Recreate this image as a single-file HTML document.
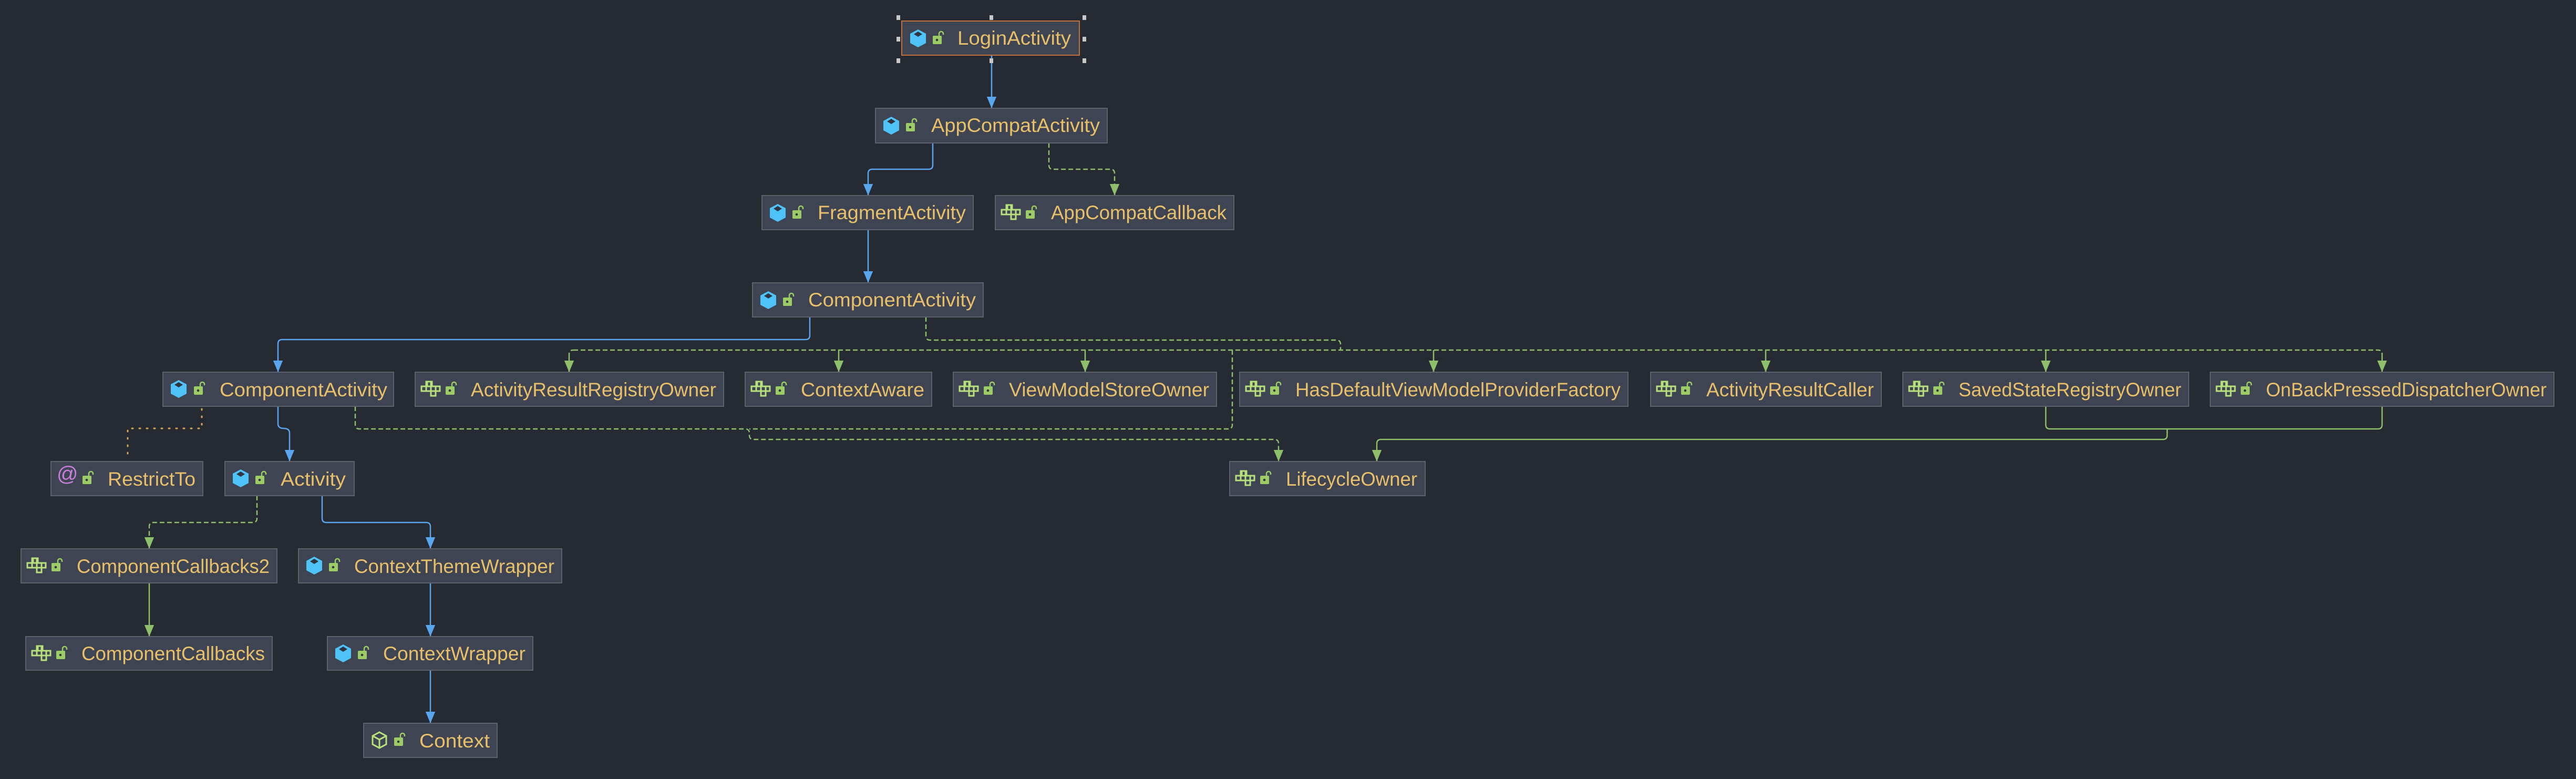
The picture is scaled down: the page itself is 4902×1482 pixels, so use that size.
<!DOCTYPE html>
<html><head><meta charset="utf-8"><style>
html,body{margin:0;padding:0;background:#262a33;}
svg{display:block}
text{font-family:"Liberation Sans",sans-serif;font-size:37px;fill:#e8bf6a}
.b{fill:#3e4451;stroke:#5c616b;stroke-width:2}
.l{fill:none;stroke-width:2.5}
.bl{stroke:#5aa6ee}.gr{stroke:#8fbf6a}.dash{stroke-dasharray:9 5}
.dot{stroke:#d9a75a;stroke-dasharray:2 12;stroke-width:3;stroke-linecap:round;fill:none}
</style></head><body>
<svg width="4902" height="1482" viewBox="0 0 4902 1482" xmlns="http://www.w3.org/2000/svg">
<defs>
<marker id="ab" markerUnits="userSpaceOnUse" markerWidth="22" markerHeight="26" refX="24" refY="10" orient="auto" viewBox="0 0 24 20"><path d="M0,0 L24,10 L0,20 Z" fill="#5aa6ee"/></marker>
<marker id="ag" markerUnits="userSpaceOnUse" markerWidth="22" markerHeight="26" refX="24" refY="10" orient="auto" viewBox="0 0 24 20"><path d="M0,0 L24,10 L0,20 Z" fill="#8fbf6a"/></marker>
<g id="cls"><polygon points="15,0 30,8 30,26 15,34 0,26 0,8" fill="#4fc3f7"/><polygon points="15,4 23,9 15,14 7,9" fill="#2f3440"/></g>
<g id="abs"><polygon points="15,2 28,9 28,25 15,32 2,25 2,9" fill="none" stroke="#b8e07c" stroke-width="3"/><polyline points="2,9 15,16 28,9 M15,16" fill="none" stroke="#b8e07c" stroke-width="3"/><line x1="15" y1="16" x2="15" y2="32" stroke="#b8e07c" stroke-width="3"/></g>
<g id="ifc" fill="none" stroke="#b8e07c" stroke-width="3"><rect x="12" y="1" width="9" height="9"/><rect x="21" y="1" width="0" height="0"/><rect x="1" y="10" width="9" height="9"/><rect x="10" y="10" width="9" height="9"/><rect x="19" y="10" width="9" height="9"/><rect x="28" y="10" width="8" height="9"/><rect x="19" y="19" width="9" height="9"/><rect x="10" y="1" width="9" height="9"/></g>
<g id="lock"><rect x="0" y="7" width="17" height="16" rx="2" fill="#9ccc65"/><path d="M12,8 V3 a4,4 0 0 1 8,0 V5" fill="none" stroke="#9ccc65" stroke-width="2.5"/><circle cx="8" cy="15" r="2.3" fill="#2f3440"/></g>
<g id="at"><text x="0" y="30" style="font-size:40px;fill:#c77dd9">@</text></g>
</defs>

<!-- connectors -->
<path class="l bl" d="M1887 105 V206" marker-end="url(#ab)"/>
<path class="l bl" d="M1775 272 V314 q0 8 -8 8 H1660 q-8 0 -8 8 V372" marker-end="url(#ab)"/>
<path class="l gr dash" d="M1996 272 V314 q0 8 8 8 H2113 q8 0 8 8 V372" marker-end="url(#ag)"/>
<path class="l bl" d="M1652 437 V538" marker-end="url(#ab)"/>
<path class="l bl" d="M1541 603 V638 q0 8 -8 8 H537 q-8 0 -8 8 V708" marker-end="url(#ab)"/>
<path class="l gr dash" d="M1762 603 V639 q0 8 8 8 H2543 q8 0 8 8 V666"/>
<path class="l gr dash" d="M1091 666 H4525 q8 0 8 8"/>
<path class="l gr dash" d="M1083 708 V674 q0 -8 8 -8"/>
<path class="l gr" d="M1083 680 V708" marker-end="url(#ag)"/>
<path class="l gr" d="M1596 666 V708" marker-end="url(#ag)"/>
<path class="l gr" d="M2065 666 V708" marker-end="url(#ag)"/>
<path class="l gr" d="M2728 666 V708" marker-end="url(#ag)"/>
<path class="l gr" d="M3360 666 V708" marker-end="url(#ag)"/>
<path class="l gr" d="M3893 666 V708" marker-end="url(#ag)"/>
<path class="l gr" d="M4533 672 V708" marker-end="url(#ag)"/>
<path class="l gr dash" d="M676 773 V808 q0 8 8 8 H1418 q8 0 8 8 V828 q0 8 8 8 H2425 q8 0 8 8 V878" marker-end="url(#ag)"/>
<path class="l gr dash" d="M2345 666 V808 q0 8 -8 8 H1426"/>
<path class="l gr" d="M3893 773 V808 q0 8 8 8 H4525 q8 0 8 -8 V773"/>
<path class="l gr" d="M4124 816 V828 q0 8 -8 8 H2628 q-8 0 -8 8 V878" marker-end="url(#ag)"/>
<path class="dot" d="M384 778 V815 H243 V872"/>
<path class="l bl" d="M529 773 V806 q0 9 11 9 q11 0 11 9 V878" marker-end="url(#ab)"/>
<path class="l gr dash" d="M489 943 V986 q0 8 -8 8 H292 q-8 0 -8 8 V1044" marker-end="url(#ag)"/>
<path class="l bl" d="M613 943 V986 q0 8 8 8 H811 q8 0 8 8 V1044" marker-end="url(#ab)"/>
<path class="l gr" d="M284 1109 V1211" marker-end="url(#ag)"/>
<path class="l bl" d="M819 1109 V1211" marker-end="url(#ab)"/>
<path class="l bl" d="M819 1275 V1376" marker-end="url(#ab)"/>

<!-- nodes -->
<g>
<rect class="b" x="1716" y="40" width="338" height="65" style="stroke:#c0703a"/>
<use href="#cls" x="1732" y="56"/><use href="#lock" x="1775" y="61"/>
<text x="1822" y="85" textLength="216" lengthAdjust="spacingAndGlyphs">LoginActivity</text>
<g fill="#c8c8c8"><rect x="1706" y="29" width="7" height="9"/><rect x="1883" y="29" width="7" height="9"/><rect x="2060" y="29" width="7" height="9"/><rect x="1706" y="70" width="7" height="9"/><rect x="2060" y="70" width="7" height="9"/><rect x="1706" y="111" width="7" height="9"/><rect x="1883" y="111" width="7" height="9"/><rect x="2060" y="111" width="7" height="9"/></g>
</g>

<rect class="b" x="1666" y="206" width="441" height="66"/><use href="#cls" x="1681" y="222"/><use href="#lock" x="1724" y="227"/>
<text x="1772" y="251" textLength="321" lengthAdjust="spacingAndGlyphs">AppCompatActivity</text>

<rect class="b" x="1450" y="372" width="402" height="65"/><use href="#cls" x="1465" y="388"/><use href="#lock" x="1508" y="393"/>
<text x="1556" y="417" textLength="282" lengthAdjust="spacingAndGlyphs">FragmentActivity</text>

<rect class="b" x="1894" y="372" width="454" height="65"/><use href="#ifc" x="1905" y="389"/><use href="#lock" x="1952" y="393"/>
<text x="2000" y="417" textLength="334" lengthAdjust="spacingAndGlyphs">AppCompatCallback</text>

<rect class="b" x="1432" y="538" width="439" height="65"/><use href="#cls" x="1447" y="554"/><use href="#lock" x="1490" y="559"/>
<text x="1538" y="583" textLength="319" lengthAdjust="spacingAndGlyphs">ComponentActivity</text>

<rect class="b" x="310" y="708" width="439" height="65"/><use href="#cls" x="325" y="723"/><use href="#lock" x="369" y="728"/>
<text x="418" y="754" textLength="319" lengthAdjust="spacingAndGlyphs">ComponentActivity</text>

<rect class="b" x="790" y="708" width="587" height="65"/><use href="#ifc" x="801" y="725"/><use href="#lock" x="848" y="728"/>
<text x="896" y="754" textLength="467" lengthAdjust="spacingAndGlyphs">ActivityResultRegistryOwner</text>

<rect class="b" x="1418" y="708" width="355" height="65"/><use href="#ifc" x="1429" y="725"/><use href="#lock" x="1476" y="728"/>
<text x="1524" y="754" textLength="235" lengthAdjust="spacingAndGlyphs">ContextAware</text>

<rect class="b" x="1814" y="708" width="501" height="65"/><use href="#ifc" x="1825" y="725"/><use href="#lock" x="1872" y="728"/>
<text x="1920" y="754" textLength="381" lengthAdjust="spacingAndGlyphs">ViewModelStoreOwner</text>

<rect class="b" x="2359" y="708" width="739" height="65"/><use href="#ifc" x="2370" y="725"/><use href="#lock" x="2417" y="728"/>
<text x="2465" y="754" textLength="619" lengthAdjust="spacingAndGlyphs">HasDefaultViewModelProviderFactory</text>

<rect class="b" x="3141" y="708" width="439" height="65"/><use href="#ifc" x="3152" y="725"/><use href="#lock" x="3199" y="728"/>
<text x="3247" y="754" textLength="319" lengthAdjust="spacingAndGlyphs">ActivityResultCaller</text>

<rect class="b" x="3621" y="708" width="544" height="65"/><use href="#ifc" x="3632" y="725"/><use href="#lock" x="3679" y="728"/>
<text x="3727" y="754" textLength="424" lengthAdjust="spacingAndGlyphs">SavedStateRegistryOwner</text>

<rect class="b" x="4206" y="708" width="654" height="65"/><use href="#ifc" x="4217" y="725"/><use href="#lock" x="4264" y="728"/>
<text x="4312" y="754" textLength="534" lengthAdjust="spacingAndGlyphs">OnBackPressedDispatcherOwner</text>

<rect class="b" x="97" y="878" width="289" height="65"/><use href="#at" x="108" y="885"/><use href="#lock" x="157" y="898"/>
<text x="205" y="924" textLength="167" lengthAdjust="spacingAndGlyphs">RestrictTo</text>

<rect class="b" x="428" y="878" width="246" height="65"/><use href="#cls" x="443" y="893"/><use href="#lock" x="486" y="898"/>
<text x="534" y="924" textLength="124" lengthAdjust="spacingAndGlyphs">Activity</text>

<rect class="b" x="2340" y="878" width="372" height="65"/><use href="#ifc" x="2351" y="895"/><use href="#lock" x="2398" y="898"/>
<text x="2447" y="924" textLength="250" lengthAdjust="spacingAndGlyphs">LifecycleOwner</text>

<rect class="b" x="40" y="1044" width="487" height="65"/><use href="#ifc" x="51" y="1061"/><use href="#lock" x="98" y="1064"/>
<text x="146" y="1090" textLength="367" lengthAdjust="spacingAndGlyphs">ComponentCallbacks2</text>

<rect class="b" x="568" y="1044" width="501" height="65"/><use href="#cls" x="583" y="1059"/><use href="#lock" x="626" y="1064"/>
<text x="674" y="1090" textLength="381" lengthAdjust="spacingAndGlyphs">ContextThemeWrapper</text>

<rect class="b" x="49" y="1211" width="469" height="64"/><use href="#ifc" x="60" y="1228"/><use href="#lock" x="107" y="1231"/>
<text x="155" y="1256" textLength="349" lengthAdjust="spacingAndGlyphs">ComponentCallbacks</text>

<rect class="b" x="623" y="1211" width="391" height="64"/><use href="#cls" x="638" y="1226"/><use href="#lock" x="681" y="1231"/>
<text x="729" y="1256" textLength="271" lengthAdjust="spacingAndGlyphs">ContextWrapper</text>

<rect class="b" x="692" y="1376" width="254" height="65"/><use href="#abs" x="707" y="1391"/><use href="#lock" x="750" y="1396"/>
<text x="798" y="1422" textLength="134" lengthAdjust="spacingAndGlyphs">Context</text>
</svg>
</body></html>
